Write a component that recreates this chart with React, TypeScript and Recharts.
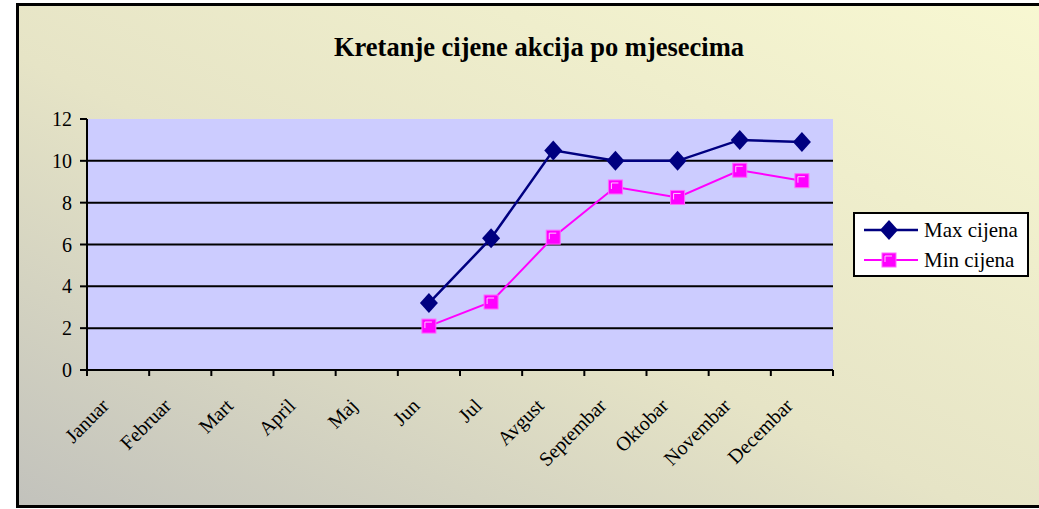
import { LineChart, Line, XAxis, YAxis, CartesianGrid, Legend } from "recharts";

const months = [
  "Januar", "Februar", "Mart", "April", "Maj", "Jun",
  "Jul", "Avgust", "Septembar", "Oktobar", "Novembar", "Decembar",
];
const maxCijena = [null, null, null, null, null, 3.2, 6.3, 10.5, 10, 10, 11, 10.9];
const minCijena = [null, null, null, null, null, 2.1, 3.25, 6.35, 8.75, 8.25, 9.55, 9.05];
const yTicks = [0, 2, 4, 6, 8, 10, 12];

const data = months.map((m, i) => ({ month: m, max: maxCijena[i], min: minCijena[i] }));

const W = 1039;
const H = 509;
const margin = { top: 119, right: 206, bottom: 59, left: 47 };
const yAxisWidth = 40;
const band = (W - margin.left - yAxisWidth - margin.right) / months.length;
const font = "'Liberation Serif', 'Times New Roman', serif";
const NAVY = "#000080";
const MAGENTA = "#FF00FF";

function MonthTick({ x, y, payload, index }: any) {
  const half = band / 2;
  const ax = x - 8;
  const ay = y + 37;
  return (
    <g>
      <line x1={x - half} x2={x - half} y1={y} y2={y + 6} stroke="#000" strokeWidth={2} />
      {index === months.length - 1 && (
        <line x1={x + half} x2={x + half} y1={y} y2={y + 6} stroke="#000" strokeWidth={2} />
      )}
      <text
        x={ax}
        y={ay}
        transform={`rotate(-45, ${ax}, ${ay})`}
        textAnchor="end"
        fontSize={20}
        fontFamily={font}
        fill="#000"
      >
        {payload.value}
      </text>
    </g>
  );
}

function Diamond({ cx, cy }: any) {
  if (cx == null || cy == null) return null;
  return <path d={`M${cx} ${cy - 10} L${cx + 9} ${cy} L${cx} ${cy + 10} L${cx - 9} ${cy} Z`} fill={NAVY} />;
}

function Square({ cx, cy }: any) {
  if (cx == null || cy == null) return null;
  return (
    <g>
      <rect x={cx - 7} y={cy - 7} width={14} height={14} fill={MAGENTA} stroke="#FF66FF" strokeWidth={1} />
      <path d={`M${cx - 4} ${cy + 2} V${cy - 4} H${cx + 3}`} stroke="#FFC8FF" strokeWidth={1} fill="none" />
    </g>
  );
}

function LegendBox() {
  const rows = [
    { label: "Max cijena", icon: <Diamond cx={26} cy={11} />, color: NAVY, w: 2.5 },
    { label: "Min cijena", icon: <Square cx={26} cy={11} />, color: MAGENTA, w: 2 },
  ];
  return (
    <div
      style={{
        border: "2px solid #000",
        background: "#fff",
        width: 176,
        height: 65,
        boxSizing: "border-box",
        padding: "1px 0 0 8px",
        fontFamily: font,
        fontSize: 21,
        lineHeight: "21px",
      }}
    >
      {rows.map((r) => (
        <div key={r.label} style={{ display: "flex", alignItems: "center", height: 30 }}>
          <svg width={56} height={22} style={{ marginRight: 5, flex: "none" }}>
            <line x1={1} x2={55} y1={11} y2={11} stroke={r.color} strokeWidth={r.w} />
            {r.icon}
          </svg>
          <span style={{ whiteSpace: "nowrap" }}>{r.label}</span>
        </div>
      ))}
    </div>
  );
}

export default function App() {
  return (
    <div style={{ position: "relative", width: W, height: H, overflow: "hidden" }}>
      <style>{"body{margin:0}"}</style>
      <div
        style={{
          position: "absolute",
          left: 16,
          top: 3,
          width: 1060,
          height: 505,
          boxSizing: "border-box",
          border: "3px solid #000",
          background: "linear-gradient(to top right, #c2c2bc 0%, #e6e4c6 45%, #f8f8d2 100%)",
        }}
      />
      <div
        style={{
          position: "absolute",
          left: 333,
          top: 32,
          width: 412,
          textAlign: "center",
          whiteSpace: "nowrap",
          fontFamily: font,
          fontWeight: "bold",
          fontSize: 26.5,
          color: "#000",
        }}
      >
        Kretanje cijene akcija po mjesecima
      </div>
      <div style={{ position: "absolute", left: 0, top: 0 }}>
        <LineChart width={W} height={H} data={data} margin={margin}>
          <CartesianGrid
            fill="#CCCCFF"
            stroke="#000"
            strokeWidth={2}
            vertical={false}
            horizontalValues={[2, 4, 6, 8, 10]}
          />
          <XAxis
            dataKey="month"
            scale="band"
            interval={0}
            tickSize={0}
            tickMargin={0}
            tickLine={false}
            axisLine={{ stroke: "#000", strokeWidth: 2 }}
            tick={<MonthTick />}
            height={80}
          />
          <XAxis
            xAxisId="top"
            orientation="top"
            dataKey="month"
            scale="band"
            height={0}
            tick={false}
            tickLine={false}
            axisLine={{ stroke: "#808080", strokeWidth: 2 }}
          />
          <YAxis
            domain={[0, 12]}
            ticks={yTicks}
            width={yAxisWidth}
            tickSize={7}
            tickMargin={8}
            tickLine={{ stroke: "#000", strokeWidth: 2 }}
            axisLine={{ stroke: "#000", strokeWidth: 2 }}
            tick={{ fontSize: 20, fontFamily: font, fill: "#000" }}
          />
          <YAxis
            yAxisId="right"
            orientation="right"
            domain={[0, 12]}
            width={0}
            tick={false}
            tickLine={false}
            axisLine={{ stroke: "#808080", strokeWidth: 2 }}
          />
          <Legend
            layout="vertical"
            verticalAlign="middle"
            align="center"
            content={<LegendBox />}
            wrapperStyle={{ left: 853, top: 212, width: 176 }}
          />
          <Line
            type="linear"
            dataKey="max"
            name="Max cijena"
            stroke={NAVY}
            strokeWidth={2.5}
            dot={<Diamond />}
            activeDot={false}
            isAnimationActive={false}
          />
          <Line
            type="linear"
            dataKey="min"
            name="Min cijena"
            stroke={MAGENTA}
            strokeWidth={2}
            dot={<Square />}
            activeDot={false}
            isAnimationActive={false}
          />
        </LineChart>
      </div>
    </div>
  );
}
